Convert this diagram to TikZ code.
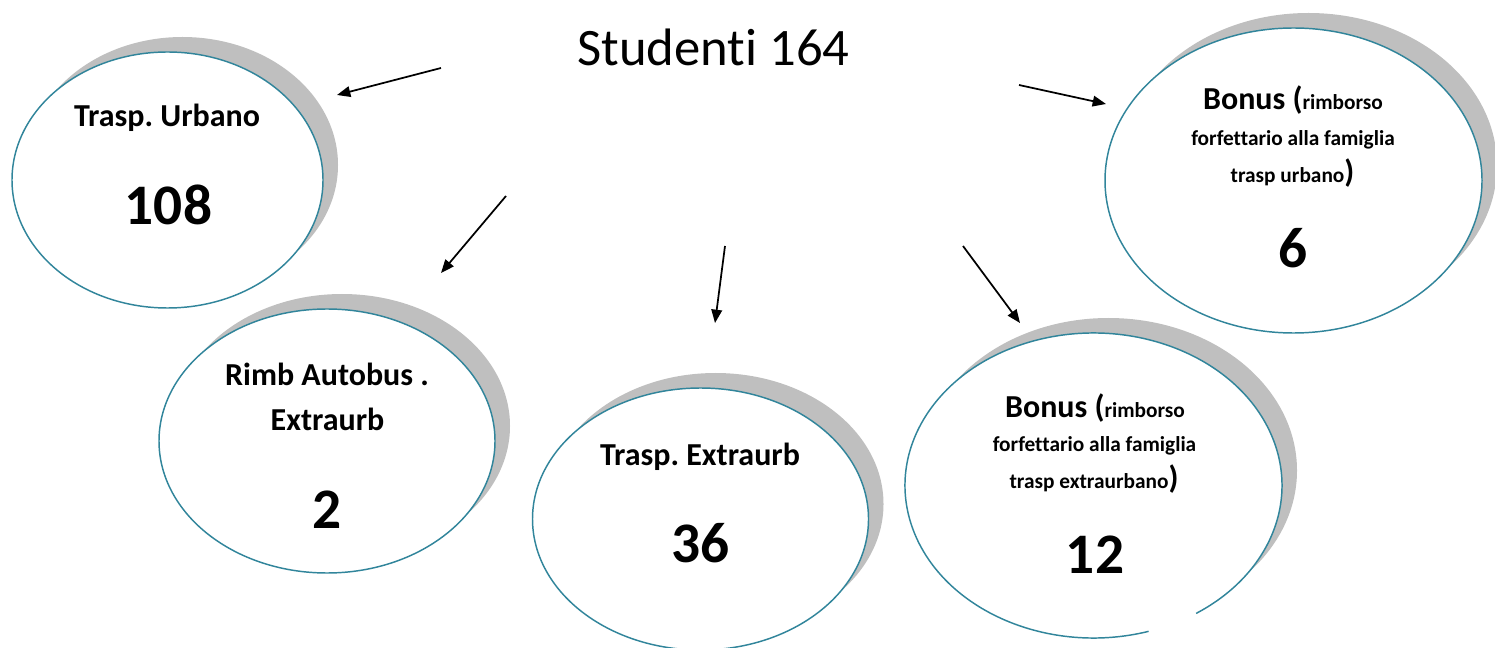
\documentclass[tikz,border=0pt]{standalone}
\usepackage{fontspec}
\setmainfont{Carlito}[Ligatures=NoCommon]
\usetikzlibrary{arrows.meta,shapes.geometric,shadows}
\definecolor{rimteal}{RGB}{49,133,155}
\definecolor{shadowgrey}{RGB}{191,191,191}
\newcommand{\smalltext}{\fontsize{16}{19}\selectfont}
\newcommand{\bigtext}{\fontsize{24}{29}\selectfont}
\frenchspacing

\begin{document}
\begin{tikzpicture}[x=0.75pt, y=-0.75pt,
		bubble/.style 2 args={ellipse, inner sep=0pt, minimum width=#1*0.75pt, minimum height=#2*0.75pt, fill=white,
			general shadow={fill=shadowgrey, shadow xshift=11.25pt, shadow yshift=11.25pt}},
		rim/.style={draw=rimteal, line width=1.1pt},
		head/.style={anchor=base, font=\bigtext\bfseries},
		small/.style={anchor=base, font=\smalltext\bfseries},
		num/.style={anchor=base, font=\fontsize{43}{50}\selectfont\bfseries},
		arr/.style={-{Triangle[length=10pt, width=8pt]}, line width=1.3pt}]
		%%%%% START %%%%%
		\useasboundingbox (0, 0) rectangle (1495, 648);
		
		\node[anchor=base, font=\fontsize{39.5}{47}\selectfont] (title) at (713.5, 66) {Studenti 164};
		
		\node[bubble={311}{256}, rim] (urb) at (167.5, 180) {};
		\node[head] (urbHead) at (167, 127) {Trasp. Urbano};
		\node[num] (urbNum) at (168.5, 225) {108};
		
		\node[bubble={336}{264}, rim] (rimb) at (327, 441) {};
		\node[head] (rimbHeadA) at (327, 385) {Rimb Autobus .};
		\node[head] (rimbHeadB) at (327.5, 431) {Extraurb};
		\node[num] (rimbNum) at (327, 528) {2};
		
		\node[bubble={336}{262}, rim] (extra) at (700.5, 519) {};
		\node[head] (extraHead) at (700, 465) {Trasp. Extraurb};
		\node[num] (extraNum) at (700.5, 562) {36};
		
		\node[bubble={377}{305}] (bonext) at (1093.5, 485.5) {};
		\draw[rim] (bonext.center) ++(73:188.5 and 152.5) arc [start angle=73, end angle=417, x radius=188.5, y radius=152.5];
		\node[head] (bonextA) at (1095, 417) {Bonus (\smalltext rimborso};
		\node[small] (bonextB) at (1094.5, 451) {forfettario alla famiglia};
		\node[small] (bonextC) at (1094, 488) {trasp extraurbano{\bigtext)}};
		\node[num] (bonextNum) at (1095, 573) {12};
		
		\node[bubble={377}{305}, rim] (bonurb) at (1293.5, 180.5) {};
		\node[head] (bonurbA) at (1293, 110) {Bonus (\smalltext rimborso};
		\node[small] (bonurbB) at (1293, 146) {forfettario alla famiglia};
		\node[small] (bonurbC) at (1292.5, 183) {trasp urbano{\bigtext)}};
		\node[num] (bonurbNum) at (1293.5, 268) {6};
		
		% arrows
		\coordinate (urbTail) at (441, 68);
		\coordinate (urbTip) at (337, 95);
		\coordinate (rimbTail) at (506, 196);
		\coordinate (rimbTip) at (441, 273);
		\coordinate (extraTail) at (725, 246);
		\coordinate (extraTip) at (715, 323);
		\coordinate (bonextTail) at (963, 246);
		\coordinate (bonextTip) at (1020, 323);
		\coordinate (bonurbTail) at (1019, 85);
		\coordinate (bonurbTip) at (1106, 104);
		
		\draw[arr] (urbTail) -- (urbTip);
		\draw[arr] (rimbTail) -- (rimbTip);
		\draw[arr] (extraTail) -- (extraTip);
		\draw[arr] (bonextTail) -- (bonextTip);
		\draw[arr] (bonurbTail) -- (bonurbTip);
		%%%%% END %%%%%
\end{tikzpicture}
\end{document}
